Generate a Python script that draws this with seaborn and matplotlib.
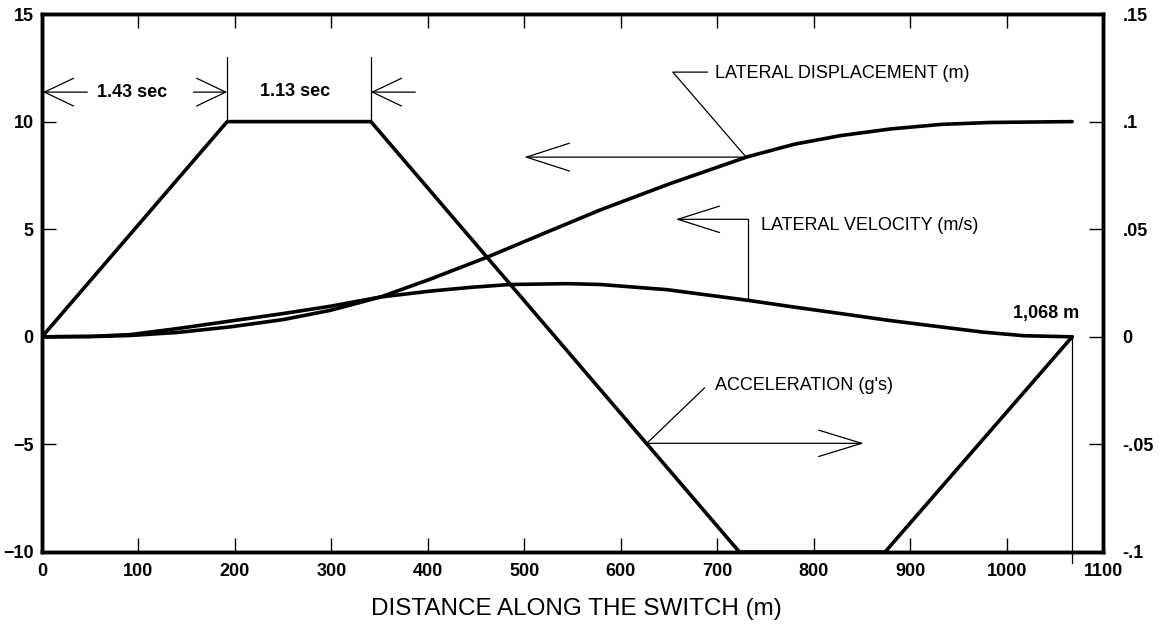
import matplotlib
matplotlib.use("Agg")
import matplotlib.pyplot as plt
import seaborn as sns
import pandas as pd

# ---------------- data ----------------
# Acceleration profile, right axis (g's)
accel_x = [0, 192, 341, 723, 874, 1068]
accel_g = [0.0, 0.10, 0.10, -0.10, -0.10, 0.0]

# Lateral displacement, left axis (m)
disp_x = [0, 50, 91, 140, 195, 250, 299, 351, 402, 462, 520, 579, 650, 731, 780,
          828, 880, 932, 983, 1068]
disp_m = [0.0, 0.01, 0.06, 0.20, 0.46, 0.80, 1.23, 1.85, 2.67, 3.71, 4.80, 5.90,
          7.10, 8.36, 8.95, 9.35, 9.66, 9.87, 9.96, 10.0]

# Lateral velocity, left axis (m/s)
vel_x = [0, 50, 91, 140, 195, 250, 299, 351, 402, 445, 485, 545, 579, 648, 731,
         780, 828, 880, 932, 975, 1018, 1068]
vel_ms = [0.0, 0.02, 0.10, 0.38, 0.73, 1.08, 1.42, 1.85, 2.12, 2.30, 2.43, 2.47,
          2.43, 2.19, 1.70, 1.38, 1.08, 0.75, 0.46, 0.22, 0.05, 0.0]

x_ticks = list(range(0, 1101, 100))
left_ticks = [-10, -5, 0, 5, 10, 15]
left_labels = ["\u221210", "\u22125", "0", "5", "10", "15"]
right_ticks = [-0.10, -0.05, 0.0, 0.05, 0.10, 0.15]
right_labels = ["-.1", "-.05", "0", ".05", ".1", ".15"]

x_label = "DISTANCE ALONG THE SWITCH (m)"
end_label = "1,068 m"

df_acc = pd.DataFrame({"x": accel_x, "y": accel_g})
df_disp = pd.DataFrame({"x": disp_x, "y": disp_m})
df_vel = pd.DataFrame({"x": vel_x, "y": vel_ms})

# ---------------- style ----------------
sns.set_theme(style="white")
plt.rcParams["font.family"] = ["Liberation Sans", "DejaVu Sans"]
plt.rcParams["text.color"] = "black"
plt.rcParams["axes.labelcolor"] = "black"
plt.rcParams["xtick.color"] = "black"
plt.rcParams["ytick.color"] = "black"

fig = plt.figure(figsize=(11.6, 6.31), dpi=100)
ax = fig.add_axes([0.0362, 0.1252, 0.9147, 0.8526])
ax2 = ax.twinx()

CURVE_LW = 2.6
sns.lineplot(data=df_disp, x="x", y="y", ax=ax, color="black", lw=CURVE_LW)
sns.lineplot(data=df_vel, x="x", y="y", ax=ax, color="black", lw=CURVE_LW)
sns.lineplot(data=df_acc, x="x", y="y", ax=ax2, color="black", lw=CURVE_LW)

ax.set_xlim(0, 1100)
ax.set_ylim(-10, 15)
ax2.set_ylim(-0.10, 0.15)
ax.set_xlabel("")
ax.set_ylabel("")
ax2.set_ylabel("")

TICK_FS = 13
ax.set_xticks(x_ticks, [str(v) for v in x_ticks], fontweight="bold", fontsize=TICK_FS)
ax.set_yticks(left_ticks, left_labels, fontweight="bold", fontsize=TICK_FS)
ax2.set_yticks(right_ticks, right_labels, fontweight="bold", fontsize=TICK_FS)

ax.tick_params(axis="x", which="major", direction="in", top=True, bottom=True,
               length=10, width=1.0, pad=8, colors="black")
ax.tick_params(axis="y", which="major", direction="in", left=True, right=False,
               length=10, width=1.0, pad=6, colors="black")
ax2.tick_params(axis="y", which="major", direction="in", right=True,
                length=10, width=1.0, pad=14, colors="black")
for lbl in ax2.get_yticklabels():
    lbl.set_horizontalalignment("left")

for a in (ax, ax2):
    for s in a.spines.values():
        s.set_linewidth(2.5)
        s.set_color("black")
ax.grid(False)
ax2.grid(False)

# ---------------- annotations ----------------
THIN = 0.9
ANN_FS = 13

def arrow(axis, head, tail, hl, hw):
    axis.annotate("", xy=head, xytext=tail,
                  arrowprops=dict(arrowstyle=f"->,head_length={hl},head_width={hw}",
                                  lw=THIN, color="black", shrinkA=0, shrinkB=0,
                                  mutation_scale=1),
                  annotation_clip=False)

# Time-interval markers at the top
ax.plot([192, 192], [10, 13.0], color="black", lw=THIN)
ax.plot([341, 341], [10, 13.0], color="black", lw=THIN)
arrow(ax, (1, 11.37), (47, 11.37), 21, 10)
arrow(ax, (192, 11.37), (157, 11.37), 21, 10)
arrow(ax, (341, 11.37), (387, 11.37), 21, 10)
ax.text(93, 11.37, "1.43 sec", ha="center", va="center", fontsize=ANN_FS, fontweight="bold")
ax.text(262, 11.4, "1.13 sec", ha="center", va="center", fontsize=ANN_FS, fontweight="bold")

# Lateral displacement leader
ax.plot([690, 654, 730], [12.3, 12.3, 8.35], color="black", lw=THIN)
arrow(ax, (500, 8.35), (730, 8.35), 31, 10)
ax.text(698, 12.25, "LATERAL DISPLACEMENT (m)", ha="left", va="center", fontsize=ANN_FS)

# Lateral velocity leader
ax.plot([732, 732], [1.70, 5.46], color="black", lw=THIN)
arrow(ax, (657, 5.46), (732, 5.46), 30, 9.5)
ax.text(745, 5.18, "LATERAL VELOCITY (m/s)", ha="left", va="center", fontsize=ANN_FS)

# Acceleration leader
ax.plot([687, 627], [-2.37, -4.95], color="black", lw=THIN)
arrow(ax, (852, -4.95), (627, -4.95), 31, 9.5)
ax.text(698, -2.27, "ACCELERATION (g's)", ha="left", va="center", fontsize=ANN_FS)

# End marker
ax.plot([1068, 1068], [0, -10.5], color="black", lw=THIN, clip_on=False)
ax.text(1041, 1.08, end_label, ha="center", va="center", fontsize=ANN_FS, fontweight="bold")

fig.text(0.4966, 0.0349, x_label, ha="center", va="center", fontsize=17.5)

fig.savefig("out.png", dpi=100, facecolor="white")
